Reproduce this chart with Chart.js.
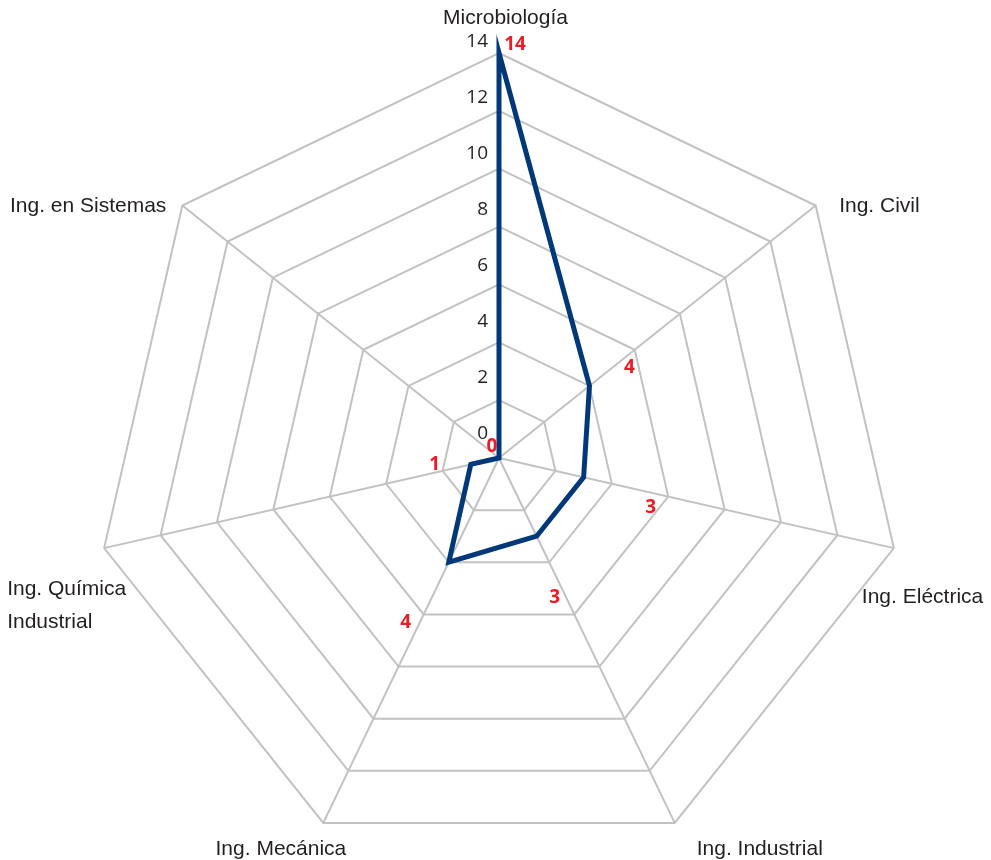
<!DOCTYPE html>
<html>
<head>
<meta charset="utf-8">
<script src="https://cdn.jsdelivr.net/npm/chart.js@4.4.1/dist/chart.umd.min.js"></script>
<style>
html,body{margin:0;padding:0;background:#ffffff;}
#wrap{width:991px;height:860px;position:relative;}
</style>
</head>
<body>
<div id="wrap"><canvas id="c" width="991" height="860"></canvas></div>
<script>
// ---- data ----
const categories = [
  ["Microbiología"],
  ["Ing. Civil"],
  ["Ing. Eléctrica"],
  ["Ing. Industrial"],
  ["Ing. Mecánica"],
  ["Ing. Química", "Industrial"],
  ["Ing. en Sistemas"]
];
const values = [14, 4, 3, 3, 4, 1, 0];
const tickValues = [0, 2, 4, 6, 8, 10, 12, 14];

// ---- layout / style (not data) ----
const CENTER_X = 499, CENTER_Y = 458, RADIUS = 405;
const LINE_COLOR = '#00387a';
const GRID_COLOR = '#c2c2c2';
const TEXT_COLOR = '#231f20';
const RED = '#ed1c24';
// offsets of category labels from their axis end
const catLabelLayout = [
  {align: 'center', dx: 6.5, dy: -29},
  {align: 'left', dx: 23.5, dy: 6.5},
  {align: 'left', dx: -32, dy: 55},
  {align: 'left', dx: 22, dy: 32},
  {align: 'right', dx: 23, dy: 32},
  {align: 'left', dx: -97, dy: 47},
  {align: 'right', dx: -16, dy: 6.5}
];
// offsets of value labels from their data point
const valueLabelOffsets = [[16, -8], [40, -18], [67, 30], [18, 61], [-43, 60], [-36, 0], [-7, -11]];

const labelsPlugin = {
  id: 'customLabels',
  afterDatasetsDraw(chart) {
    const ctx = chart.ctx;
    const r = chart.scales.r;
    ctx.save();
    // tick labels (left of the vertical axis)
    ctx.font = '19px "Open Sans", "Noto Sans", sans-serif';
    ctx.fillStyle = TEXT_COLOR;
    ctx.textAlign = 'right';
    ctx.textBaseline = 'middle';
    tickValues.forEach(v => {
      const d = r.getDistanceFromCenterForValue(v);
      ctx.fillText(String(v), r.xCenter - 11, r.yCenter - 24 - d * (56 / 57.86));
    });
    // category labels
    ctx.font = '21px "Liberation Sans", Arial, sans-serif';
    ctx.fillStyle = TEXT_COLOR;
    ctx.textBaseline = 'alphabetic';
    categories.forEach((lines, i) => {
      const p = r.getPointPosition(i, r.drawingArea);
      const L = catLabelLayout[i];
      ctx.textAlign = L.align;
      lines.forEach((t, k) => ctx.fillText(t, p.x + L.dx, p.y + L.dy + k * 33));
    });
    // value labels
    const meta = chart.getDatasetMeta(0);
    ctx.font = 'bold 19px "Open Sans", "Noto Sans", sans-serif';
    ctx.fillStyle = RED;
    ctx.textAlign = 'center';
    ctx.textBaseline = 'middle';
    meta.data.forEach((pt, i) => {
      const o = valueLabelOffsets[i];
      ctx.fillText(String(values[i]), pt.x + o[0], pt.y + o[1]);
    });
    ctx.restore();
  }
};

new Chart(document.getElementById('c'), {
  type: 'radar',
  data: {
    labels: categories,
    datasets: [{
      data: values,
      borderColor: LINE_COLOR,
      borderWidth: 5,
      fill: false,
      pointRadius: 0,
      pointHoverRadius: 0,
      borderJoinStyle: 'miter',
      tension: 0
    }]
  },
  options: {
    responsive: false,
    animation: false,
    devicePixelRatio: 1,
    plugins: {legend: {display: false}, tooltip: {enabled: false}},
    scales: {
      r: {
        min: 0,
        max: 14,
        ticks: {stepSize: 2, display: false},
        grid: {color: GRID_COLOR, lineWidth: 2},
        angleLines: {color: GRID_COLOR, lineWidth: 2},
        pointLabels: {display: false},
        afterFit(s) {
          s.xCenter = CENTER_X;
          s.yCenter = CENTER_Y;
          s.drawingArea = RADIUS;
        }
      }
    }
  },
  plugins: [labelsPlugin]
});
</script>
</body>
</html>
